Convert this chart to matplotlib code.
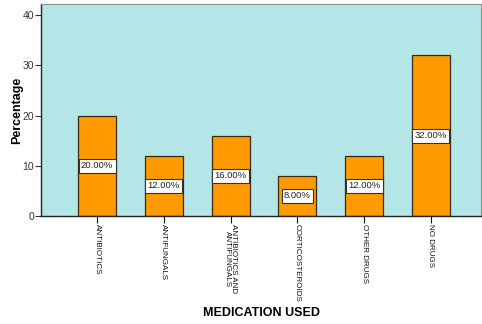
import matplotlib.pyplot as plt
import numpy as np

categories = ["ANTIBIOTICS", "ANTIFUNGALS", "ANTIBIOTICS AND\nANTIFUNGALS",
              "CORTICOSTEROIDS", "OTHER DRUGS", "NO DRUGS"]
percent = [20.0, 12.0, 16.0, 8.0, 12.0, 32.0]
yticks = [0, 10, 20, 30, 40]

plt.rcParams["font.family"] = ["Liberation Sans", "DejaVu Sans"]

fig = plt.figure(figsize=(4.82, 3.24), dpi=100)
ax = fig.add_axes([0.085, 0.333, 0.913, 0.655])
ax.set_facecolor("#b4e6e7")

x = np.arange(len(categories))
ax.bar(x, percent, width=0.57, color="#ff9a00", edgecolor="#3a2a10", linewidth=0.9, zorder=2)

for xi, v in zip(x, percent):
    ax.text(xi, v / 2, f"{v:.2f}%", ha="center", va="center", fontsize=6.8, zorder=3,
            color="#222222",
            bbox=dict(boxstyle="square,pad=0.25", facecolor="white", edgecolor="#333333", linewidth=0.8))

ax.set_xlim(-0.84, 5.75)
ax.set_ylim(0, 42.2)
ax.set_yticks(yticks)
ax.set_xticks(x)
ax.set_xticklabels(categories, rotation=270, ha="center", va="top", fontsize=5.8,
                   linespacing=0.85)
ax.tick_params(axis="y", labelsize=7.5, length=4, width=0.8, pad=1, colors="#333333")
ax.tick_params(axis="x", length=5, width=0.8, pad=1, colors="#111111")

for side in ["top", "right"]:
    ax.spines[side].set_color("#909090")
for side in ["left", "bottom"]:
    ax.spines[side].set_color("#222222")
    ax.spines[side].set_linewidth(1.0)

ax.set_ylabel("Percentage", fontsize=9, fontweight="bold")
ax.yaxis.set_label_coords(-0.04, 0.5)
ax.set_xlabel("MEDICATION USED", fontsize=9, fontweight="bold")
ax.xaxis.set_label_coords(0.5, -0.43)

fig.savefig("out.png", dpi=100)
